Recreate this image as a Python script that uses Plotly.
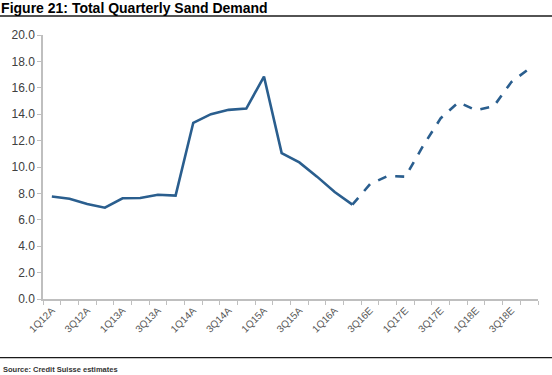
import plotly.graph_objects as go

categories = [
    "1Q12A", "2Q12A", "3Q12A", "4Q12A",
    "1Q13A", "2Q13A", "3Q13A", "4Q13A",
    "1Q14A", "2Q14A", "3Q14A", "4Q14A",
    "1Q15A", "2Q15A", "3Q15A", "4Q15A",
    "1Q16A", "2Q16A", "3Q16E", "4Q16E",
    "1Q17E", "2Q17E", "3Q17E", "4Q17E",
    "1Q18E", "2Q18E", "3Q18E", "4Q18E",
]
actual_values = [7.76, 7.6, 7.2, 6.92, 7.63, 7.65, 7.9, 7.83, 13.35, 14.0, 14.33, 14.43,
                 16.85, 11.05, 10.35, 9.27, 8.1, 7.15]
estimate_values = [7.15, 8.7, 9.32, 9.27, 11.6, 13.7, 14.9, 14.3, 14.6, 16.45, 17.45]
y_tick_values = [0, 2, 4, 6, 8, 10, 12, 14, 16, 18, 20]

line_color = "#2a5e8e"
n_act = len(actual_values)
x_act = list(range(n_act))
x_est = list(range(n_act - 1, n_act - 1 + len(estimate_values)))

fig = go.Figure()
fig.add_trace(go.Scatter(x=x_act, y=actual_values, mode="lines",
                         line=dict(color=line_color, width=2.6), showlegend=False))
fig.add_trace(go.Scatter(x=x_est, y=estimate_values, mode="lines",
                         line=dict(color=line_color, width=2.6, dash="dash"), showlegend=False))

label_idx = list(range(0, len(categories), 2))
fig.update_xaxes(
    range=[-0.5, len(categories) - 0.5],
    tickmode="array",
    tickvals=label_idx,
    ticktext=[categories[i] for i in label_idx],
    tickangle=-45,
    ticks="",
    tickfont=dict(family="Arial, Liberation Sans", size=10, color="#595959"),
    showline=True, linecolor="#bfbfbf", linewidth=1.5,
    showgrid=False, zeroline=False, automargin=False,
    minor=dict(ticks="outside", tickmode="linear", tick0=-0.5, dtick=1,
               ticklen=4, tickcolor="#bfbfbf", tickwidth=1, showgrid=False),
)
fig.update_yaxes(
    range=[0, 20],
    tickmode="array",
    tickvals=y_tick_values,
    ticktext=[f"{v:.1f}" for v in y_tick_values],
    ticks="outside", ticklen=4, tickcolor="#bfbfbf", tickwidth=1,
    tickfont=dict(family="Arial, Liberation Sans", size=12, color="#404040"),
    showline=True, linecolor="#bfbfbf", linewidth=1.5,
    showgrid=False, zeroline=False, automargin=False,
)

fig.update_layout(
    width=552, height=375,
    margin=dict(l=43, r=14, t=35, b=76),
    paper_bgcolor="white", plot_bgcolor="white",
    title=dict(text="<b>Figure 21: Total Quarterly Sand Demand</b>",
               xref="container", yref="container", x=0.002, y=1 - 8.0 / 375,
               xanchor="left", yanchor="middle",
               font=dict(family="Arial, Liberation Sans", size=14, color="black")),
    shapes=[
        dict(type="line", xref="paper", yref="paper",
             x0=-43 / 495, x1=(552 - 43) / 495,
             y0=(299 - 16.0) / 264, y1=(299 - 16.0) / 264,
             line=dict(color="#1a1a1a", width=1.6)),
        dict(type="line", xref="paper", yref="paper",
             x0=-43 / 495, x1=(552 - 43) / 495,
             y0=(299 - 357.7) / 264, y1=(299 - 357.7) / 264,
             line=dict(color="#1a1a1a", width=1.3)),
    ],
    annotations=[
        dict(text="<b>Source: Credit Suisse estimates</b>", xref="paper", yref="paper",
             x=-42 / 495, y=(299 - 369) / 264, xanchor="left", yanchor="middle",
             showarrow=False,
             font=dict(family="Arial, Liberation Sans", size=7.5, color="#333333")),
    ],
)

fig.write_html("out.html", config={"displayModeBar": False},
               post_script="document.body.style.margin='0';document.body.style.overflow='hidden';")
